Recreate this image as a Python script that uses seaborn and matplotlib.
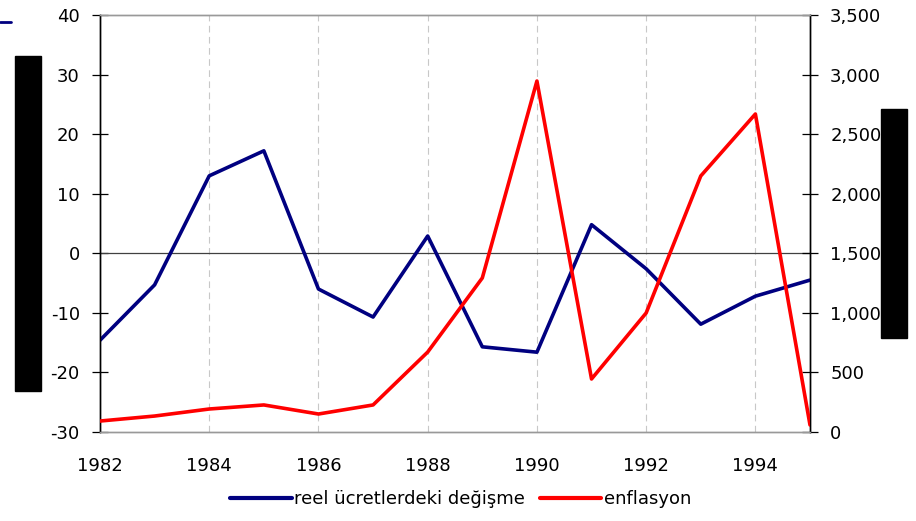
import matplotlib.pyplot as plt
import matplotlib.patches as mpatches
import matplotlib.lines as mlines
import pandas as pd
import seaborn as sns

# values
years = [1982, 1983, 1984, 1985, 1986, 1987, 1988, 1989, 1990, 1991, 1992, 1993, 1994, 1995]
real_wage_change = [-14.6, -5.3, 13.0, 17.2, -6.0, -10.7, 2.9, -15.7, -16.6, 4.8, -2.6, -11.9, -7.2, -4.5]
inflation = [92, 134, 193, 227, 151, 227, 671, 1293, 2946, 445, 999, 2149, 2669, 59]
even_years = [1982, 1984, 1986, 1988, 1990, 1992, 1994]

BLUE = "#000080"
RED = "#ff0000"

sns.set_style("white")
plt.rcParams["font.family"] = ["DejaVu Sans"]
plt.rcParams["font.size"] = 13
plt.rcParams["axes.unicode_minus"] = False
plt.rcParams["text.color"] = "black"
plt.rcParams["xtick.color"] = "black"
plt.rcParams["ytick.color"] = "black"

df = pd.DataFrame({"year": years, "wage": real_wage_change, "infl": inflation})

fig = plt.figure(figsize=(9.16, 5.21), dpi=100)
ax = fig.add_axes([100 / 916, 1 - 432 / 521, 710 / 916, 417 / 521])
ax2 = ax.twinx()

sns.lineplot(data=df, x="year", y="wage", ax=ax, color=BLUE, linewidth=2.6, zorder=3)
sns.lineplot(data=df, x="year", y="infl", ax=ax2, color=RED, linewidth=2.6, zorder=3)

ax.set_xlim(1982, 1995)
ax.set_ylim(-30, 40)
ax2.set_ylim(0, 3500)
ax.set_xticks(even_years)
ax.set_xticklabels([str(y) for y in even_years])
ax.set_yticks(range(-30, 41, 10))
ax2.set_yticks(range(0, 3501, 500))
ax2.set_yticklabels([f"{v:,}" for v in range(0, 3501, 500)])

for y in even_years[1:]:
    ax.axvline(y, color="#c8c8c8", linestyle=(0, (6, 4)), linewidth=0.8, zorder=1)
ax.axhline(0, color="#404040", linewidth=0.9, zorder=2)

ax.set_xlabel("")
ax.set_ylabel("")
ax2.set_xlabel("")
ax2.set_ylabel("")

for a in (ax, ax2):
    a.spines["top"].set_color("#999999")
    a.spines["bottom"].set_color("#999999")
    a.spines["left"].set_color("black")
    a.spines["right"].set_color("black")
    for s in a.spines.values():
        s.set_linewidth(1.0)

ax.tick_params(axis="y", direction="inout", length=11, width=0.9, color="black",
               labelcolor="black", pad=9, labelsize=13)
ax2.tick_params(axis="y", direction="inout", length=11, width=0.9, color="black",
                labelcolor="black", pad=9, labelsize=13)
ax.tick_params(axis="x", length=0, pad=18, labelcolor="black", labelsize=13)

# redacted axis titles shown as black blocks
fig.patches.append(mpatches.Rectangle((15 / 916, 1 - 391 / 521), 26 / 916, 335 / 521,
                                      transform=fig.transFigure, color="black"))
fig.patches.append(mpatches.Rectangle((881 / 916, 1 - 338 / 521), 26 / 916, 229 / 521,
                                      transform=fig.transFigure, color="black"))
fig.lines.append(mlines.Line2D([0, 11 / 916], [1 - 22 / 521, 1 - 22 / 521],
                               transform=fig.transFigure, color=BLUE, linewidth=2))

handles = [mlines.Line2D([], [], color=BLUE, linewidth=3),
           mlines.Line2D([], [], color=RED, linewidth=3)]
leg = fig.legend(handles, ["reel ücretlerdeki değişme", "enflasyon"], loc="center",
                 bbox_to_anchor=(0.503, 1 - 499 / 521), ncol=2, frameon=False, fontsize=13,
                 handlelength=3.4, handletextpad=0.15, columnspacing=0.8)
for t in leg.get_texts():
    t.set_color("black")

fig.savefig("out.png", dpi=100)
